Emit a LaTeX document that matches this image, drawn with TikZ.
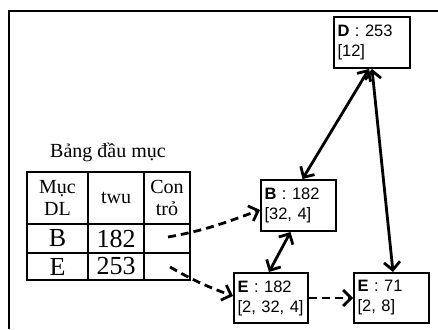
\documentclass[tikz,border=0pt]{standalone}
\usepackage{fontspec}
\setmainfont{Liberation Serif}
\newfontfamily\boxfont{Liberation Sans}
\usetikzlibrary{arrows.meta}
\begin{document}
\begin{tikzpicture}[x=1pt,y=1pt,
  item/.style={draw, line width=2pt, rectangle, inner xsep=3.5pt, inner ysep=0pt,
    minimum height=51pt, align=left, font=\boxfont\fontsize{16.5}{20}\selectfont},
  cell/.style={draw, line width=1.8pt, rectangle, inner sep=0pt, align=center},
  headtxt/.style={font=\fontsize{20}{22}\selectfont},
  bodytxt/.style={font=\fontsize{26}{28}\selectfont},
  barb/.tip={Straight Barb[length=8pt,width=16pt]},
  link/.style={line width=2.8pt, barb-barb},
  ptr/.style={line width=2.8pt, dash pattern=on 8pt off 5pt, -barb},
]
\useasboundingbox (0,0) rectangle (438,329);

% outer frame (open on the right and bottom)
\draw[line width=2pt] (9,0) -- (9,317.5) -- (438,317.5);

% header table
\node[headtxt, anchor=base] (title) at (108,171) {Bảng đầu mục};
\node[cell, headtxt, minimum width=61pt, minimum height=52pt] (h1) at (57.5,131) {Mục\\DL};
\node[cell, headtxt, minimum width=56pt, minimum height=52pt] (h2) at (116,131) {twu};
\node[cell, headtxt, minimum width=46pt, minimum height=52pt] (h3) at (167,131) {Con\\trỏ};
\node[cell, bodytxt, minimum width=61pt, minimum height=29pt] (b1) at (57.5,90.5) {B};
\node[cell, bodytxt, minimum width=56pt, minimum height=29pt] (b2) at (116,90.5) {182};
\node[cell, minimum width=46pt, minimum height=29pt] (b3) at (167,90.5) {};
\node[cell, bodytxt, minimum width=61pt, minimum height=27pt] (e1) at (57.5,62.5) {E};
\node[cell, bodytxt, minimum width=56pt, minimum height=27pt] (e2) at (116,62.5) {253};
\node[cell, minimum width=46pt, minimum height=27pt] (e3) at (167,62.5) {};
\coordinate (pB) at (168,92);
\coordinate (pE) at (170,62);

% tree nodes
\node[item, text width=69pt] (D) at (372,286.5) {\textbf{D} : 253\\{[12]}};
\node[item, text width=68pt] (B) at (298.5,123.5) {\textbf{B} : 182\\{[32, 4]}};
\node[item, text width=67pt, minimum height=50pt] (E1) at (271,31) {\textbf{E} : 182\\{[2, 32, 4]}};
\node[item, text width=68pt, minimum height=50pt] (E2) at (391.5,31) {\textbf{E} : 71\\{[2, 8]}};

% links
\draw[link] ([xshift=4pt]B.north) -- ([xshift=-3pt]D.south);
\draw[link] (D.south) -- ([xshift=1.5pt]E2.north);
\draw[link] ([xshift=-8pt]B.south) -- ([xshift=-2pt]E1.north);
\draw[ptr] (E1.east) -- (E2.west);
\draw[ptr] (pB) to[out=10,in=200] ([yshift=-4.5pt]B.west);
\draw[ptr] (pE) to[out=-30,in=160] ([yshift=2pt]E1.west);
\end{tikzpicture}
\end{document}
